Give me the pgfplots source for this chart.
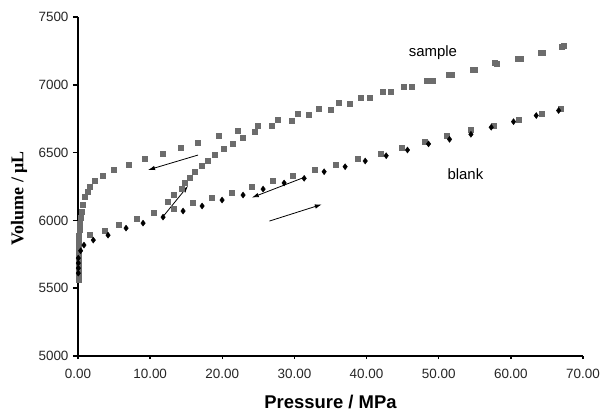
\documentclass[border=0pt]{standalone}
\usepackage{pgfplots}
\pgfplotsset{compat=1.18}
\usepackage{fontspec}
\setmainfont{Liberation Sans}
\newfontfamily\serifb{Liberation Serif}
\usetikzlibrary{arrows.meta}
\definecolor{mgray}{RGB}{108,108,108}

\pgfplotstableread{
x y
67.1 7282
64.1 7238
61.0 7191
57.8 7160
54.7 7115
51.4 7075
48.4 7031
45.1 6987
42.2 6948
39.2 6906
36.2 6866
33.3 6827
30.4 6784
27.7 6741
24.9 6700
22.1 6660
19.46 6621
16.64 6576
14.17 6533
11.72 6494
9.29 6453
6.98 6412
4.95 6372
3.43 6329
2.36 6290
1.66 6248
1.29 6211
0.97 6174
0.69 6113
0.55 6061
0.42 6017
0.28 5973
0.21 5928
0.14 5884
0.14 5840
0.10 5795
0.07 5751
0.07 5707
0.04 5663
0.04 5619
0.04 5574
0.04 5560
}\sampledown

\pgfplotstableread{
x y
12.5 6135
13.2 6187
14.4 6237
14.8 6278
15.5 6318
16.2 6359
17.2 6403
18.0 6440
18.9 6488
20.2 6527
21.4 6569
22.8 6612
24.5 6652
26.9 6697
29.6 6736
32.0 6778
35.0 6820
37.7 6864
40.5 6906
43.4 6946
46.3 6987
49.1 7029
51.8 7073
55.0 7112
58.1 7158
61.3 7193
64.4 7236
67.3 7285
}\sampleup

\pgfplotstableread{
x y
1.66 5891
3.65 5925
5.59 5969
8.14 6015
10.44 6056
13.22 6089
15.95 6128
18.59 6165
21.36 6202
24.13 6246
27.05 6290
29.82 6327
32.87 6372
35.78 6414
38.74 6458
41.89 6495
44.90 6539
47.99 6581
51.14 6623
54.47 6667
57.60 6699
61.07 6746
64.31 6785
66.95 6827
}\blanksq

\pgfplotstableread{
x y
0.04 5611
0.04 5648
0.04 5685
0.04 5722
0.37 5776
0.83 5818
2.12 5855
4.16 5891
6.66 5943
9.02 5980
11.79 6024
14.56 6069
17.2 6106
19.97 6150
22.88 6187
25.66 6231
28.57 6276
31.35 6310
34.12 6359
37.03 6396
39.81 6438
42.72 6477
45.67 6519
48.59 6564
51.50 6598
54.47 6635
57.28 6687
60.37 6728
63.52 6773
66.62 6810
}\blankdia

\begin{document}
\begin{tikzpicture}
\begin{axis}[
 at={(0,0)}, anchor=south west,
 scale only axis, width=505bp, height=339bp,
 xmin=0, xmax=70, ymin=5000, ymax=7500,
 axis x line=bottom, axis y line=left,
 axis line style={-, line width=1.5bp, black},
 xtick={0,10,...,70}, ytick={5000,5500,...,7500},
 tick align=outside,
 major tick length=5bp,
 tick style={line width=1.5bp, black},
 xtick style={/pgfplots/major tick length=3bp},
 /pgf/number format/assume math mode=true,
 every tick label/.append style={font=\fontsize{13.5}{16}\selectfont, text=black!85},
 xticklabel style={yshift=-5bp, /pgf/number format/fixed, /pgf/number format/fixed zerofill, /pgf/number format/precision=2},
 yticklabel style={xshift=-1bp, /pgf/number format/1000 sep={}},
 clip=false,
]
\addplot[only marks, mark=square*, mark size=2.5bp, color=mgray] table[x=x,y=y] {\sampledown};
\addplot[only marks, mark=square*, mark size=2.5bp, color=mgray] table[x=x,y=y] {\sampleup};
\addplot[only marks, mark=square*, mark size=2.5bp, color=mgray] table[x=x,y=y] {\blanksq};
\addplot[only marks, mark=diamond*, mark size=3bp, color=black] table[x=x,y=y] {\blankdia};

\draw[-{Latex[length=7bp,width=4.5bp]}, line width=0.8bp] (axis cs:16.64,6482) -- (axis cs:9.71,6372);
\draw[-{Latex[length=7bp,width=4.5bp]}, line width=0.8bp] (axis cs:11.65,6019) -- (axis cs:15.26,6255);
\draw[-{Latex[length=7bp,width=4.5bp]}, line width=0.8bp] (axis cs:31.48,6320) -- (axis cs:24.09,6168);
\draw[-{Latex[length=7bp,width=4.5bp]}, line width=0.8bp] (axis cs:26.53,5995) -- (axis cs:33.80,6118);

\node[font=\fontsize{15}{18}\selectfont] at (axis cs:49.2,7236) {sample};
\node[font=\fontsize{15}{18}\selectfont] at (axis cs:53.7,6342) {blank};
\end{axis}
\node[font=\fontsize{18.5}{22}\selectfont\bfseries] at (252.5bp,-46bp) {Pressure / MPa};
\node[rotate=90, font=\serifb\fontsize{18}{22}\selectfont\bfseries] at (-59bp,157.5bp) {Volume / μL};
\pgfresetboundingbox
\path[use as bounding box] (-78bp,-56bp) rectangle (524bp,356bp);
\end{tikzpicture}
\end{document}
